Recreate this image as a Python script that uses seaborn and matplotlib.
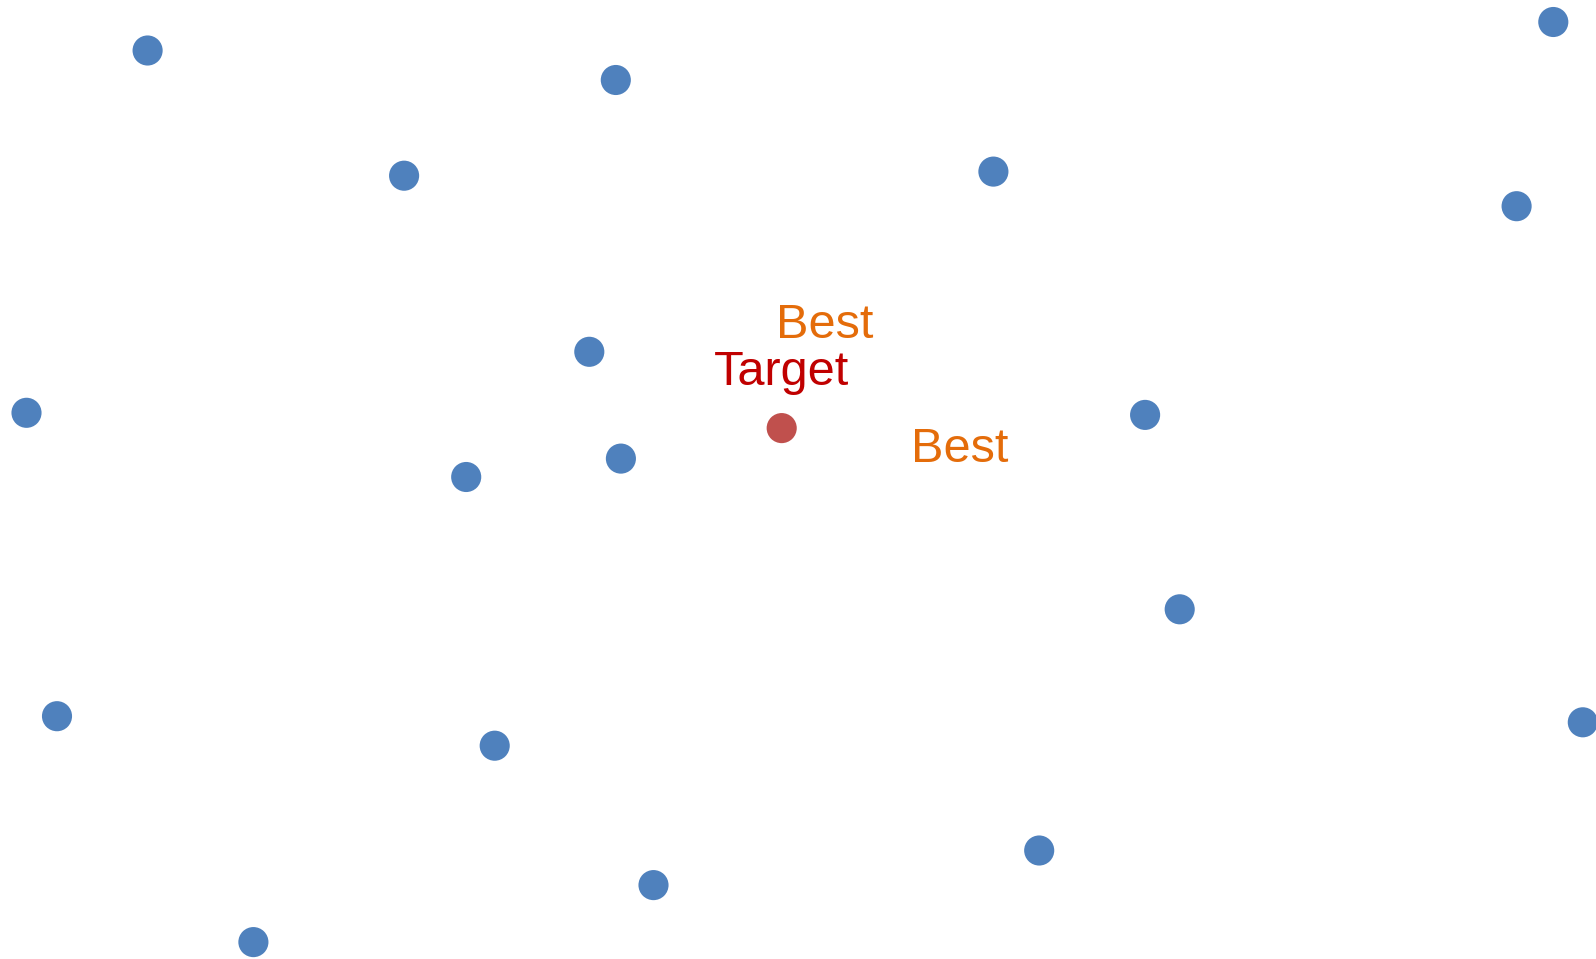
import pandas as pd
import matplotlib.pyplot as plt
import seaborn as sns

sns.set_style("white")
plt.rcParams['font.family'] = ['Liberation Sans', 'DejaVu Sans']

# Candidate points (x, y in canvas units, y grows downward)
point_x = [147.6, 615.8, 404.1, 993.4, 1553.3, 1516.6, 589.3, 26.5, 466.2,
           620.9, 1145.1, 1179.7, 57.0, 494.7, 1582.8, 1039.2, 653.5, 253.4]
point_y = [50.5, 80.0, 175.7, 171.6, 22.0, 206.2, 351.8, 412.8, 477.0,
           458.6, 414.9, 609.3, 716.2, 745.7, 722.3, 850.5, 885.1, 942.1]

# Target point
target_x = [781.7]
target_y = [428.1]

# Text labels (baseline positions)
label_text = ['Best', 'Target', 'Best']
label_x = [824.8, 781.7, 959.7]
label_y = [338.3, 385.0, 461.7]
label_color = ['#E46C0A', '#C00000', '#E46C0A']

points = pd.DataFrame({'x': point_x, 'y': point_y})
target = pd.DataFrame({'x': target_x, 'y': target_y})

fig = plt.figure(figsize=(15.96, 9.59), dpi=100)
ax = fig.add_axes([0, 0, 1, 1])

sns.scatterplot(data=points, x='x', y='y', s=470, color='#4F81BD',
                edgecolor='none', linewidth=0, ax=ax)
sns.scatterplot(data=target, x='x', y='y', s=470, color='#C0504D',
                edgecolor='none', linewidth=0, ax=ax)

for txt, tx, ty, c in zip(label_text, label_x, label_y, label_color):
    ax.text(tx, ty, txt, color=c, fontsize=35, ha='center', va='baseline')

ax.set_xlim(0, 1596)
ax.set_ylim(959, 0)
ax.axis('off')

plt.savefig('out.png', dpi=100)
